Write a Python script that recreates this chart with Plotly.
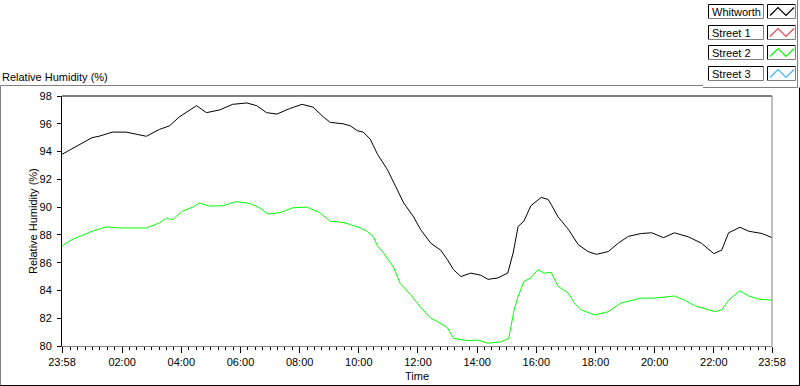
import plotly.graph_objects as go

# ---- data (minutes since 23:58 start, relative humidity %) ----
minutes_whitworth = [0, 61, 75, 102, 130, 171, 198, 218, 238, 255, 273, 293, 320, 346, 375, 395, 415, 436,
                     462, 487, 509, 530, 544, 570, 585, 599, 611, 625, 640, 660, 676, 693, 713, 727, 748,
                     768, 782, 794, 809, 829, 849, 864, 884, 904, 915, 925, 937, 951, 972, 986, 992, 1006,
                     1027, 1039, 1047, 1067, 1084, 1108, 1128, 1149, 1175, 1196, 1220, 1242, 1271, 1297,
                     1322, 1338, 1352, 1375, 1393, 1420, 1440]
rh_whitworth = [93.8, 95.0, 95.1, 95.4, 95.4, 95.1, 95.6, 95.85, 96.5, 96.9, 97.3, 96.8, 97.0, 97.4, 97.5,
                97.3, 96.8, 96.7, 97.1, 97.4, 97.2, 96.5, 96.1, 96.0, 95.85, 95.5, 95.4, 94.9, 93.8, 92.7,
                91.5, 90.3, 89.3, 88.4, 87.4, 86.9, 86.2, 85.5, 85.0, 85.25, 85.1, 84.8, 84.9, 85.25, 86.7,
                88.6, 89.0, 90.1, 90.7, 90.55, 90.2, 89.3, 88.4, 87.7, 87.3, 86.8, 86.6, 86.8, 87.4, 87.9,
                88.1, 88.15, 87.8, 88.15, 87.85, 87.4, 86.65, 86.9, 88.15, 88.55, 88.26, 88.1, 87.8]

minutes_street2 = [0, 20, 61, 90, 116, 171, 198, 212, 224, 244, 265, 279, 299, 326, 354, 381, 401, 418,
                   442, 468, 497, 523, 544, 570, 585, 605, 619, 631, 640, 652, 672, 686, 707, 727, 748,
                   762, 782, 794, 823, 843, 864, 890, 906, 917, 925, 937, 951, 965, 978, 992, 1006, 1027,
                   1039, 1053, 1080, 1108, 1134, 1175, 1202, 1242, 1263, 1283, 1312, 1324, 1338, 1352,
                   1375, 1393, 1414, 1440]
rh_street2 = [87.2, 87.66, 88.26, 88.58, 88.5, 88.5, 88.87, 89.2, 89.1, 89.7, 90.0, 90.3, 90.07, 90.1,
              90.4, 90.26, 89.95, 89.5, 89.6, 89.95, 90.0, 89.6, 88.98, 88.9, 88.74, 88.5, 88.26, 87.9,
              87.2, 86.7, 85.7, 84.5, 83.7, 82.8, 82.0, 81.75, 81.3, 80.55, 80.38, 80.43, 80.2, 80.3,
              80.55, 82.6, 83.56, 84.65, 84.9, 85.5, 85.25, 85.3, 84.3, 83.8, 83.1, 82.6, 82.24, 82.47,
              83.1, 83.45, 83.45, 83.6, 83.3, 82.9, 82.6, 82.47, 82.6, 83.3, 83.97, 83.6, 83.37, 83.3]

x_tick_minutes = [0, 122, 242, 362, 482, 602, 722, 842, 962, 1082, 1202, 1322, 1440]
x_tick_labels = ["23:58", "02:00", "04:00", "06:00", "08:00", "10:00", "12:00",
                 "14:00", "16:00", "18:00", "20:00", "22:00", "23:58"]
y_ticks = [80, 82, 84, 86, 88, 90, 92, 94, 96, 98]

legend_names = ["Whitworth", "Street 1", "Street 2", "Street 3"]
legend_colors = ["#000000", "#e84848", "#00ff00", "#40b8ff"]

FONT = "Liberation Sans, Arial, sans-serif"

# plot area in pixels
L, R, T, B = 62, 772, 96, 346
W, H = 800, 386


def X(px):
    return (px - L) / (R - L)


def Y(py):
    return (B - py) / (B - T)


fig = go.Figure()
fig.add_trace(go.Scatter(x=minutes_whitworth, y=rh_whitworth, mode="lines",
                         line=dict(color=legend_colors[0], width=1), name=legend_names[0]))
fig.add_trace(go.Scatter(x=minutes_street2, y=rh_street2, mode="lines",
                         line=dict(color=legend_colors[2], width=1), name=legend_names[2]))

shapes = []


def hline(x0, x1, y, color):
    shapes.append(dict(type="line", xref="paper", yref="paper", x0=X(x0), x1=X(x1), y0=Y(y), y1=Y(y),
                       line=dict(color=color, width=1)))


def vline(x, y0, y1, color):
    shapes.append(dict(type="line", xref="paper", yref="paper", x0=X(x), x1=X(x), y0=Y(y0), y1=Y(y1),
                       line=dict(color=color, width=1)))


# plot frame: top black, right gray
hline(L, R, T, "#000000")
vline(R, T, B, "#808080")

# outer panel frame
hline(0.5, 703, 85.5, "#808080")
vline(0.5, 85.5, 385.5, "#808080")
hline(0, 800, 385.5, "#000000")
vline(799.5, 87.5, 386, "#000000")
hline(703, 797.5, 87.5, "#808080")
vline(797.5, 0, 87.5, "#808080")

annotations = []
row_tops = [4.5, 25.5, 45.5, 66.5]
for name, color, top in zip(legend_names, legend_colors, row_tops):
    bot = top + 14
    # text box
    hline(708.5, 763.5, top, "#000000")
    vline(708.5, top, bot, "#000000")
    hline(708.5, 763.5, bot, "#808080")
    vline(763.5, top, bot, "#808080")
    # icon box
    hline(767.5, 795.5, top, "#000000")
    vline(767.5, top, bot, "#000000")
    hline(767.5, 795.5, bot, "#808080")
    vline(795.5, top, bot, "#808080")
    # zigzag icon
    pts = [(770, top + 11), (778, top + 3), (786, top + 11), (794, top + 3)]
    path = "M " + " L ".join(f"{X(px)},{Y(py)}" for px, py in pts)
    shapes.append(dict(type="path", xref="paper", yref="paper", path=path,
                       line=dict(color=color, width=1.2)))
    annotations.append(dict(text=name, xref="paper", yref="paper", x=X(710), y=Y(top + 7.5),
                            xanchor="left", yanchor="middle", showarrow=False,
                            font=dict(family=FONT, size=11, color="#000000")))

annotations.append(dict(text="Relative Humidity (%)", xref="paper", yref="paper", x=X(0), y=Y(77),
                        xanchor="left", yanchor="middle", showarrow=False,
                        font=dict(family=FONT, size=11, color="#000000")))
annotations.append(dict(text="Relative Humidity (%)", xref="paper", yref="paper", x=X(33), y=Y(221),
                        xanchor="center", yanchor="middle", textangle=-90, showarrow=False,
                        font=dict(family=FONT, size=11, color="#000000")))
annotations.append(dict(text="Time", xref="paper", yref="paper", x=X(417), y=Y(376),
                        xanchor="center", yanchor="middle", showarrow=False,
                        font=dict(family=FONT, size=11, color="#000000")))

fig.update_layout(
    width=W, height=H,
    margin=dict(l=L, r=W - R, t=T, b=H - B, pad=0),
    paper_bgcolor="white", plot_bgcolor="white",
    showlegend=False,
    font=dict(family=FONT, size=11, color="#000000"),
    shapes=shapes, annotations=annotations,
    xaxis=dict(range=[0, 1440], tickmode="array", tickvals=x_tick_minutes, ticktext=x_tick_labels,
               showgrid=False, zeroline=False, showline=True, linecolor="#808080", linewidth=1,
               ticks="outside", ticklen=6, tickcolor="#000000", tickwidth=1,
               tickfont=dict(family=FONT, size=11, color="#000000"),
               minor=dict(tick0=2, dtick=15, ticks="outside", ticklen=3, tickcolor="#000000", showgrid=False)),
    yaxis=dict(range=[80, 98], tickmode="array", tickvals=y_ticks,
               showgrid=False, zeroline=False, showline=True, linecolor="#000000", linewidth=1,
               ticks="outside", ticklen=4, tickcolor="#000000", tickwidth=1, ticklabelstandoff=3,
               tickfont=dict(family=FONT, size=11, color="#000000")),
)

fig.write_html("out.html", config={"displayModeBar": False},
               post_script="document.body.style.margin='0';document.body.style.overflow='hidden';")
